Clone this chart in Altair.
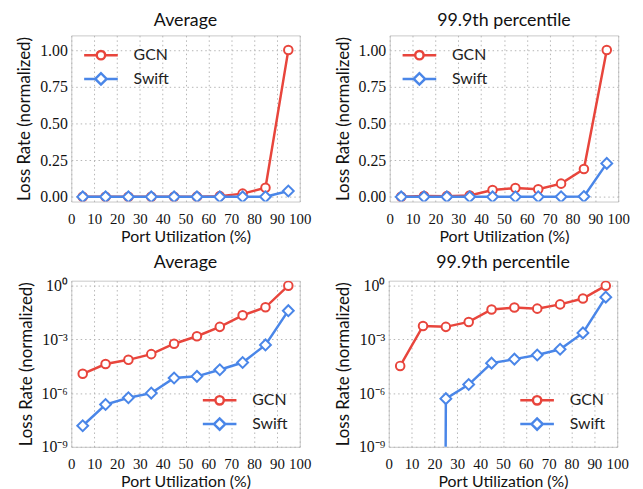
import altair as alt
import pandas as pd

# ---------------- data ----------------
util = [5, 15, 25, 35, 45, 55, 65, 75, 85, 95]
series_names = ["GCN", "Swift"]

avg_gcn = [1.2e-5, 4.2e-5, 7.2e-5, 1.5e-4, 5.7e-4, 1.5e-3, 5.0e-3, 2.2e-2, 6.2e-2, 1.0]
avg_swift = [1.5e-8, 2.3e-7, 5.5e-7, 1.0e-6, 7.0e-6, 8.6e-6, 2.0e-5, 5.1e-5, 4.9e-4, 4.0e-2]
p999_gcn = [3.3e-5, 5.6e-3, 5.0e-3, 9.4e-3, 4.7e-2, 6.0e-2, 5.2e-2, 9.0e-2, 1.9e-1, 1.0]
p999_swift = [0.0, 0.0, 4.9e-7, 3.0e-6, 4.7e-5, 7.9e-5, 1.35e-4, 2.8e-4, 2.3e-3, 2.28e-1]

x_ticks = [0, 10, 20, 30, 40, 50, 60, 70, 80, 90, 100]
lin_ticks = [0.0, 0.25, 0.5, 0.75, 1.0]
log_ticks = [1e-9, 1e-6, 1e-3, 1.0]

RED = "#e8453c"
BLUE = "#4a86e8"
SANS = "Lato"
SERIF = "Liberation Serif"

PATH_C = "M-3.4,0H-0.85M0.85,0H3.4M0.85,0A0.85,0.85,0,1,1,-0.85,0A0.85,0.85,0,1,1,0.85,0Z"
PATH_D = "M-3.4,0H-1.15M1.15,0H3.4M-1.15,0L0,-1.15L1.15,0L0,1.15Z"

W, H = 231, 168


def panel(gcn, swift, title, log):
    df = pd.DataFrame({
        "util": util * 2,
        "rate": gcn + swift,
        "series": ["GCN"] * len(util) + ["Swift"] * len(util),
    })
    common = dict(title=None, labelFont=SANS, labelFontSize=16, labelColor="#222",
                  symbolSize=100, symbolStrokeWidth=2.5, symbolFillColor="white",
                  labelOffset=25, rowPadding=3, padding=0)
    if log:
        yscale = alt.Scale(type="log", domain=[1e-9, 1.9], nice=False)
        yaxis = alt.Axis(
            values=log_ticks,
            labelExpr="datum.value >= 0.5 ? '10⁰' : datum.value >= 5e-4 ? '10⁻³' : datum.value >= 5e-7 ? '10⁻⁶' : '10⁻⁹'",
            title="Loss Rate (normalized)",
        )
        calc = "datum.rate > 0 ? datum.rate : 1e-300"
        leg = alt.Legend(orient="bottom-right", offset=12, **common)
    else:
        yscale = alt.Scale(domain=[-0.032, 1.1], nice=False)
        yaxis = alt.Axis(values=lin_ticks, format=".2f", title="Loss Rate (normalized)")
        calc = "datum.rate"
        leg = alt.Legend(orient="none", legendX=22, legendY=12, **common)

    xenc = alt.X("util:Q", scale=alt.Scale(domain=[0, 100], nice=False),
                 axis=alt.Axis(values=x_ticks, title="Port Utilization (%)"))
    yenc = alt.Y("ry:Q", scale=yscale, axis=yaxis)

    base = alt.Chart(df).transform_calculate(ry=calc)
    layers = []
    for name, shape, col, size in [("GCN", "circle", RED, 75), ("Swift", "diamond", BLUE, 120)]:
        b = base.transform_filter(alt.datum.series == name)
        layers.append(b.mark_line(color=col, strokeWidth=2.5, clip=True).encode(x=xenc, y=yenc))
        layers.append(b.mark_point(shape=shape, fill="white", stroke=col, strokeWidth=2,
                                   size=size, opacity=1, clip=True).encode(x=xenc, y=yenc))

    legend_layer = base.transform_filter("false").mark_point(filled=False, opacity=1).encode(
        x=xenc, y=yenc,
        color=alt.Color("series:N", scale=alt.Scale(domain=series_names, range=[RED, BLUE]), legend=leg),
        shape=alt.Shape("series:N", scale=alt.Scale(domain=series_names, range=[PATH_C, PATH_D]), legend=leg),
    )
    layers.append(legend_layer)
    return alt.layer(*layers).properties(
        width=W, height=H,
        title=alt.TitleParams(title, font=SANS, fontSize=18, fontWeight="normal", color="#111", offset=6),
    )


p1 = panel(avg_gcn, avg_swift, "Average", False)
p2 = panel(p999_gcn, p999_swift, "99.9th percentile", False)
p3 = panel(avg_gcn, avg_swift, "Average", True)
p4 = panel(p999_gcn, p999_swift, "99.9th percentile", True)

ind = dict(color="independent", shape="independent")
row1 = alt.hconcat(p1, p2, spacing=22).resolve_scale(**ind).resolve_legend(**ind)
row2 = alt.hconcat(p3, p4, spacing=22).resolve_scale(**ind).resolve_legend(**ind)

chart = alt.vconcat(row1, row2, spacing=8).resolve_scale(**ind).resolve_legend(**ind).properties(
    padding={"left": 7, "top": 0, "right": 5, "bottom": 0}
).configure_view(
    stroke="#c8c8c8", strokeWidth=1
).configure_axis(
    grid=True, gridColor="#b5b5b5", gridDash=[1.5, 3], gridWidth=1,
    domain=False, ticks=False, labelOverlap=False, labelFlush=False,
    labelFont=SERIF, labelFontSize=16, labelColor="#111", labelPadding=4,
    titleFont=SANS, titleFontSize=16, titleFontWeight="normal", titleColor="#111",
).configure_axisX(labelPadding=10, labelFontSize=15, titlePadding=2).configure_axisY(titlePadding=6, titleFontSize=17)

chart.save("out.html", embed_options={"renderer": "svg", "actions": False})
